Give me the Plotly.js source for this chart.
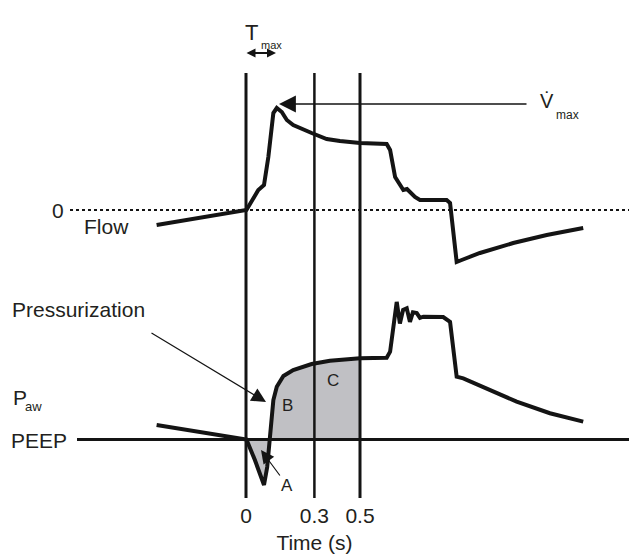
<!DOCTYPE html>
<html>
<head>
<meta charset="utf-8">
<script src="https://cdn.plot.ly/plotly-3.0.1.min.js"></script>
<style>html,body{margin:0;padding:0;background:#fff;}#chart{width:629px;height:554px;}</style>
</head>
<body>
<div id="chart"></div>
<script>
// ---- Data (time in s, flow in arbitrary L/s-like units, pressure in cmH2O above PEEP) ----
const flowTime = [-0.392, -0.009, 0.002, 0.054, 0.079, 0.098, 0.120, 0.135, 0.157, 0.179, 0.207, 0.288, 0.354, 0.412, 0.500, 0.617, 0.632, 0.654, 0.668, 0.690, 0.706, 0.719, 0.741, 0.763, 0.880, 0.895, 0.924, 0.946, 1.026, 1.172, 1.319, 1.479];
const flowValue = [-0.15, -0.005, 0.00, 0.20, 0.25, 0.53, 0.97, 1.02, 0.98, 0.90, 0.85, 0.77, 0.71, 0.69, 0.67, 0.66, 0.60, 0.33, 0.28, 0.20, 0.21, 0.18, 0.13, 0.10, 0.10, 0.07, -0.52, -0.50, -0.43, -0.33, -0.25, -0.18];

const presTime = [-0.392, -0.202, 0.002, 0.039, 0.079, 0.093, 0.105, 0.120, 0.135, 0.164, 0.207, 0.288, 0.368, 0.500, 0.617, 0.632, 0.661, 0.675, 0.689, 0.705, 0.719, 0.732, 0.749, 0.763, 0.778, 0.865, 0.895, 0.924, 0.953, 1.041, 1.187, 1.333, 1.479];
const presValue = [1.81, 0.94, 0.00, -2.56, -5.69, -3.44, -0.06, 4.94, 6.60, 7.94, 8.69, 9.44, 9.85, 10.15, 10.23, 10.98, 17.2, 14.5, 16.2, 16.4, 14.7, 15.9, 15.8, 15.2, 15.35, 15.3, 14.7, 7.85, 7.65, 6.60, 4.73, 3.28, 2.23];

const markerTimes = [0, 0.3, 0.5];
const tickLabels = ['0', '0.3', '0.5'];
const shadeStart = 0, shadeEnd = 0.5;

// ---- Layout helpers (pixel -> paper) ----
const W = 629, H = 554;
const px = v => v / W;
const py = v => 1 - v / H;
const FONT = 'Liberation Sans, Arial, Helvetica, sans-serif';
const TXT = '#231f20';
const INK = '#141414';

const shadeT = [], shadeV = [];
presTime.forEach((t, i) => { if (t >= shadeStart && t <= shadeEnd) { shadeT.push(t); shadeV.push(presValue[i]); } });

const traces = [
  {x: shadeT, y: shadeV, yaxis: 'y2', mode: 'lines', fill: 'tozeroy', fillcolor: '#c0c0c4', line: {width: 0}, hoverinfo: 'skip'},
  {x: flowTime, y: flowValue, mode: 'lines', line: {color: INK, width: 4}, hoverinfo: 'skip'},
  {x: presTime, y: presValue, yaxis: 'y2', mode: 'lines', line: {color: INK, width: 4}, hoverinfo: 'skip'}
];

const shapes = [];
markerTimes.forEach((t, i) => {
  shapes.push({type: 'line', xref: 'x', yref: 'paper', x0: t, x1: t, y0: py(498), y1: py(73), line: {color: INK, width: i === 1 ? 2.5 : 3}});
});
// zero-flow dotted line
shapes.push({type: 'line', xref: 'paper', yref: 'y', x0: px(70), x1: 1, y0: 0, y1: 0, line: {color: INK, width: 2, dash: '3px,3px'}});
// PEEP line
shapes.push({type: 'line', xref: 'paper', yref: 'y2', x0: px(77), x1: 1, y0: 0, y1: 0, line: {color: INK, width: 3}});

function txt(text, x, y, size, xanchor) {
  return {text: text, xref: 'paper', yref: 'paper', x: px(x), y: py(y), showarrow: false,
          xanchor: xanchor || 'center', yanchor: 'middle', font: {family: FONT, size: size, color: TXT}};
}
function arrow(tipX, tipY, tailX, tailY, width, size, both) {
  const a = {text: '', xref: 'paper', yref: 'paper', x: px(tipX), y: py(tipY), ax: tailX - tipX, ay: tailY - tipY,
          axref: 'pixel', ayref: 'pixel', showarrow: true, arrowhead: 2, arrowsize: size, arrowwidth: width, arrowcolor: INK, standoff: 0, startstandoff: 0};
  if (both) { a.arrowside = 'end+start'; a.startarrowhead = 2; a.startarrowsize = size; }
  return a;
}

const annotations = [
  txt('T', 251, 33, 22),
  txt('max', 271, 45, 11),
  arrow(276, 53, 245, 53, 1.8, 1.0, true),
  txt('V\u0307', 546.5, 101, 20),
  txt('max', 567, 115, 12),
  arrow(279, 104, 528, 104, 1.3, 2.6, false),
  txt('0', 58, 211, 21),
  txt('Flow', 106, 226, 21),
  txt('Pressurization', 10, 309, 21, 'left'),
  arrow(266, 402, 150, 332, 1.2, 2.4, false),
  txt('P', 11, 397, 21, 'left'),
  txt('aw', 33, 406, 13),
  txt('PEEP', 9, 440, 21, 'left'),
  txt('B', 287, 405, 17),
  txt('C', 333, 380, 17),
  txt('A', 287, 485, 17),
  arrow(261, 450, 281, 477, 1.2, 2.2, false)
];

const layout = {
  width: W, height: H,
  margin: {l: 0, r: 0, t: 0, b: 0},
  paper_bgcolor: '#ffffff', plot_bgcolor: '#ffffff',
  showlegend: false,
  xaxis: {range: [-246 / 228, (W - 246) / 228], tickvals: markerTimes, ticktext: tickLabels,
          showgrid: false, zeroline: false, showline: false, ticks: '', anchor: 'free', position: py(501),
          tickfont: {family: FONT, size: 21, color: TXT},
          title: {text: 'Time (s)', font: {family: FONT, size: 21, color: TXT}, standoff: 9}, fixedrange: true},
  yaxis: {range: [(210 - H) / 100, 210 / 100], visible: false, fixedrange: true},
  yaxis2: {range: [(439.5 - H) / 8, 439.5 / 8], overlaying: 'y', visible: false, fixedrange: true},
  shapes: shapes,
  annotations: annotations
};

Plotly.newPlot('chart', traces, layout, {staticPlot: true, displayModeBar: false});
</script>
</body>
</html>
